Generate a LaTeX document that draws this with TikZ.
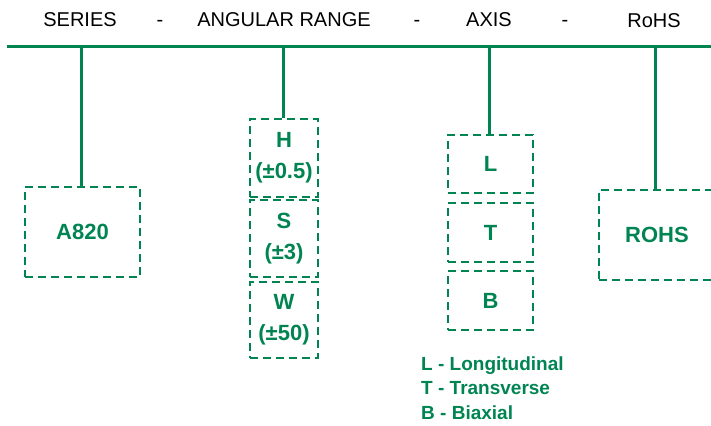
\documentclass[tikz,border=0pt]{standalone}
\usepackage{fontspec}
\setmainfont{Liberation Sans}
\definecolor{grn}{RGB}{0,133,82}
\begin{document}
\begin{tikzpicture}[x=1pt,y=-1pt,
  hdr/.style={font=\fontsize{20}{24}\selectfont, text=black, inner sep=0pt, anchor=base},
  box/.style={draw=grn, line width=2.8pt, dash pattern=on 8pt off 5pt, text=grn,
    font=\bfseries\fontsize{22}{31}\selectfont, align=center, inner sep=0pt},
  conn/.style={draw=grn, line width=3pt},
  leg/.style={text=grn, font=\bfseries\fontsize{19}{24.5}\selectfont, align=left, inner sep=0pt, anchor=base west}]
\useasboundingbox (0,0) rectangle (711,425);
% header
\node[hdr] (t1) at (80,27) {SERIES};
\node[hdr] (d1) at (160,27) {-};
\node[hdr] (t2) at (284,27) {ANGULAR RANGE};
\node[hdr] (d2) at (417,27) {-};
\node[hdr] (t3) at (489,27) {AXIS};
\node[hdr] (d3) at (565,27) {-};
\node[hdr] (t4) at (654,28) {RoHS};
\coordinate (L0) at (7,47);
\coordinate (L1) at (711,47);
\draw[conn] (L0) -- (L1);
\coordinate (c1) at (81,47);
\coordinate (c2) at (283,47);
\coordinate (c3) at (489,47);
\coordinate (c4) at (655,47);
% boxes
\node[box, minimum width=115pt, minimum height=90pt] (a820) at (82.5,232) {A820};
\node[box, minimum width=68pt, minimum height=78pt] (h) at (284,158) {H\\(±0.5)};
\node[box, minimum width=68pt, minimum height=77pt] (s) at (284,238.5) {S\\(±3)};
\node[box, minimum width=68pt, minimum height=76pt] (w) at (284,320) {W\\(±50)};
\node[box, minimum width=85pt, minimum height=58pt] (l) at (490.5,164) {L};
\node[box, minimum width=85pt, minimum height=59pt] (t) at (490.5,232.5) {T};
\node[box, minimum width=85pt, minimum height=59pt] (b) at (490.5,300.5) {B};
\node[box, minimum width=116pt, minimum height=90pt] (r) at (657,235) {ROHS};
\draw[conn] (c1) -- (a820.north -| c1);
\draw[conn] (c2) -- (h.north -| c2);
\draw[conn] (c3) -- (l.north -| c3);
\draw[conn] (c4) -- (r.north -| c4);
% legend
\node[leg] (legend) at (421,419) {L - Longitudinal\\T - Transverse\\B - Biaxial};
\end{tikzpicture}
\end{document}
